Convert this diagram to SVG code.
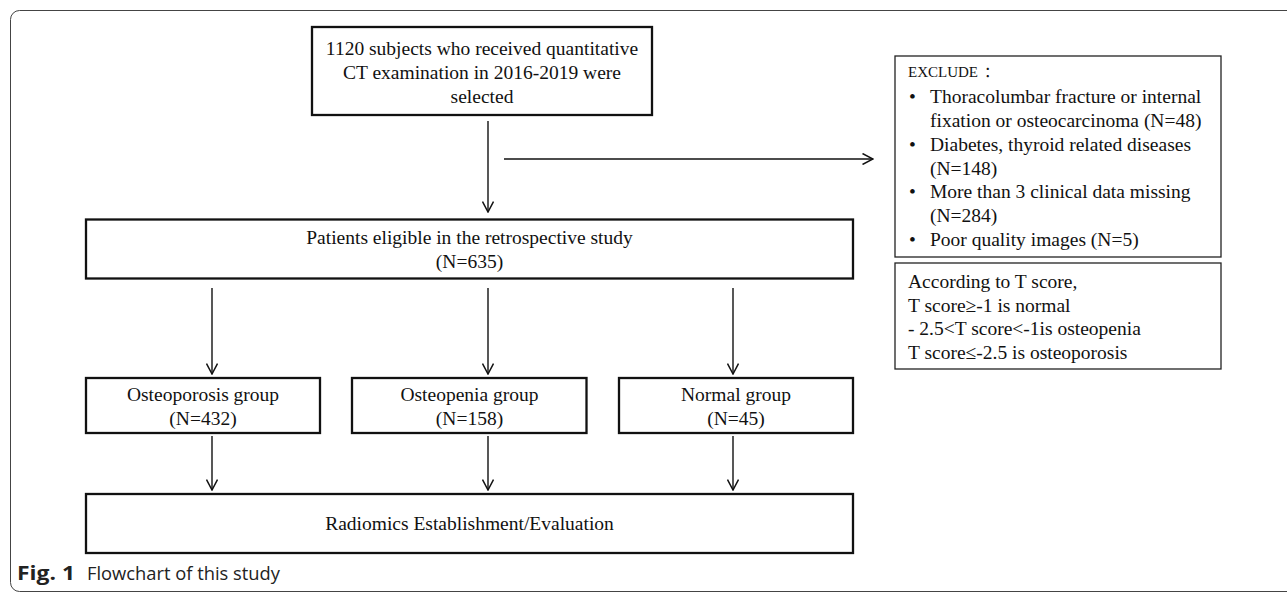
<svg xmlns="http://www.w3.org/2000/svg" width="1287" height="592" viewBox="0 0 1287 592">
<defs>
<style>
.t{font-family:"Liberation Serif","Times New Roman",serif;font-size:19.5px;fill:#111}
.c{text-anchor:middle}
.box{fill:#fff;stroke:#111;stroke-width:2.3}
.thin{fill:#fff;stroke:#222;stroke-width:1.3}
.ln{fill:none;stroke:#111;stroke-width:1.4}
.cap{font-family:"Open Sans","Liberation Sans",sans-serif;font-size:17.5px;fill:#222}
</style>
<marker id="ah" viewBox="0 0 12 12" refX="11" refY="6" markerWidth="12" markerHeight="12" markerUnits="userSpaceOnUse" orient="auto">
<path d="M0.5,0.5 L11,6 L0.5,11.5" fill="none" stroke="#111" stroke-width="1.5"/>
</marker>
</defs>
<rect x="10.5" y="10.5" width="1300" height="581" rx="9" fill="#fff" stroke="#444" stroke-width="1"/>
<g id="n-start">
<rect class="box" x="312" y="27" width="340" height="88" stroke-width="2.6"/>
<text class="t c" x="482" y="55">1120 subjects who received quantitative</text>
<text class="t c" x="482" y="79">CT examination in 2016-2019 were</text>
<text class="t c" x="482" y="103">selected</text>
</g>
<g id="n-exclude">
<rect class="thin" x="895" y="56" width="326" height="201"/>
<text class="t" x="908" y="77" style="font-size:15px">EXCLUDE<tspan dx="6" font-family="'Noto Sans CJK SC',sans-serif">：</tspan></text>
<text class="t" x="909" y="103">•</text><text class="t" x="930" y="103">Thoracolumbar fracture or internal</text>
<text class="t" x="930" y="127">fixation or osteocarcinoma (N=48)</text>
<text class="t" x="909" y="151">•</text><text class="t" x="930" y="151">Diabetes, thyroid related diseases</text>
<text class="t" x="930" y="174.5">(N=148)</text>
<text class="t" x="909" y="198">•</text><text class="t" x="930" y="198">More than 3 clinical data missing</text>
<text class="t" x="930" y="222">(N=284)</text>
<text class="t" x="909" y="245.5">•</text><text class="t" x="930" y="245.5">Poor quality images (N=5)</text>
</g>
<g id="n-tscore">
<rect class="thin" x="895" y="263" width="326" height="106"/>
<text class="t" x="908" y="288">According to T score,</text>
<text class="t" x="908" y="311.5">T score≥-1 is normal</text>
<text class="t" x="908" y="335">- 2.5&lt;T score&lt;-1is osteopenia</text>
<text class="t" x="908" y="358.5">T score≤-2.5 is osteoporosis</text>
</g>
<g id="n-eligible">
<rect class="box" x="86" y="219.5" width="767" height="59"/>
<text class="t c" x="469.5" y="244">Patients eligible in the retrospective study</text>
<text class="t c" x="469.5" y="268">(N=635)</text>
</g>
<g id="n-osteoporosis">
<rect class="box" x="86" y="378" width="234" height="55"/>
<text class="t c" x="203" y="401">Osteoporosis group</text>
<text class="t c" x="203" y="425">(N=432)</text>
</g>
<g id="n-osteopenia">
<rect class="box" x="352" y="378" width="234.5" height="55"/>
<text class="t c" x="469.5" y="401">Osteopenia group</text>
<text class="t c" x="469.5" y="425">(N=158)</text>
</g>
<g id="n-normal">
<rect class="box" x="619" y="378" width="234" height="55"/>
<text class="t c" x="736" y="401">Normal group</text>
<text class="t c" x="736" y="425">(N=45)</text>
</g>
<g id="n-radiomics">
<rect class="box" x="86" y="494" width="767" height="59"/>
<text class="t c" x="469.5" y="530">Radiomics Establishment/Evaluation</text>
</g>
<g id="connectors">
<line class="ln" x1="488" y1="121" x2="488" y2="212" marker-end="url(#ah)"/>
<line class="ln" x1="504" y1="159" x2="873" y2="159" marker-end="url(#ah)"/>
<line class="ln" x1="212" y1="288" x2="212" y2="374" marker-end="url(#ah)"/>
<line class="ln" x1="488" y1="288" x2="488" y2="374" marker-end="url(#ah)"/>
<line class="ln" x1="733" y1="288" x2="733" y2="374" marker-end="url(#ah)"/>
<line class="ln" x1="212" y1="436" x2="212" y2="490" marker-end="url(#ah)"/>
<line class="ln" x1="488" y1="436" x2="488" y2="490" marker-end="url(#ah)"/>
<line class="ln" x1="733" y1="436" x2="733" y2="490" marker-end="url(#ah)"/>
</g>
<g id="caption">
<text class="cap" x="17" y="580" font-weight="bold" style="font-size:19px" textLength="58" lengthAdjust="spacingAndGlyphs">Fig. 1</text>
<text class="cap" x="87" y="580" textLength="193" lengthAdjust="spacingAndGlyphs">Flowchart of this study</text>
</g>
</svg>
